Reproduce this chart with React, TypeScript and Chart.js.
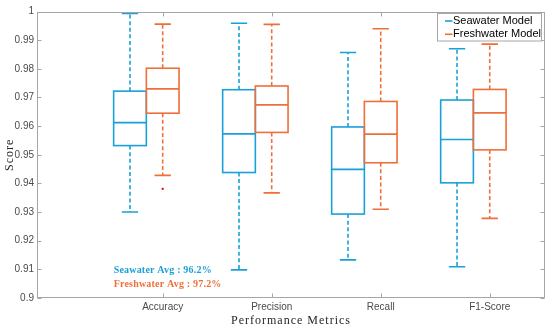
import React, { useEffect, useRef } from "react";
import { Chart, registerables } from "chart.js";

Chart.register(...registerables);

const categories = ["Accuracy", "Precision", "Recall", "F1-Score"];
const positions = [1, 2, 3, 4];
const yTicks = [0.9, 0.91, 0.92, 0.93, 0.94, 0.95, 0.96, 0.97, 0.98, 0.99, 1.0];

const seawaterMin = [0.930, 0.9098, 0.9133, 0.9109];
const seawaterQ1 = [0.9532, 0.9438, 0.9293, 0.9402];
const seawaterMedian = [0.9612, 0.9573, 0.9449, 0.9553];
const seawaterQ3 = [0.9722, 0.9727, 0.9597, 0.9691];
const seawaterMax = [0.9993, 0.9959, 0.9857, 0.9870];

const freshwaterMin = [0.9428, 0.9367, 0.9310, 0.9278];
const freshwaterQ1 = [0.9645, 0.9578, 0.9472, 0.9517];
const freshwaterMedian = [0.9730, 0.9674, 0.9572, 0.9646];
const freshwaterQ3 = [0.9802, 0.9740, 0.9686, 0.9728];
const freshwaterMax = [0.9956, 0.9955, 0.9940, 0.9886];

const freshwaterOutlierX = [1];
const freshwaterOutlierY = [0.9381];

const seriesNames = ["Seawater Model", "Freshwater Model"];
const avgTexts = ["Seawater Avg : 96.2%", "Freshwater Avg : 97.2%"];

const BLUE = "#1aa0d8";
const ORANGE = "#ef6f3a";
const FRAME = "#a6a6a6";

const boxSeries = [
  { offset: -0.3, color: BLUE, min: seawaterMin, q1: seawaterQ1, med: seawaterMedian, q3: seawaterQ3, max: seawaterMax },
  { offset: 0, color: ORANGE, min: freshwaterMin, q1: freshwaterQ1, med: freshwaterMedian, q3: freshwaterQ3, max: freshwaterMax },
];

const boxPlugin = {
  id: "boxPlugin",
  afterDatasetsDraw(chart: any) {
    const ctx = chart.ctx as CanvasRenderingContext2D;
    const xs = chart.scales.x;
    const ys = chart.scales.y;
    const ca = chart.chartArea;
    const boxW = 0.3;
    const capW = 0.15;
    ctx.save();
    boxSeries.forEach((s) => {
      positions.forEach((p, i) => {
        const c = p + s.offset;
        const xl = xs.getPixelForValue(c - boxW / 2);
        const xr = xs.getPixelForValue(c + boxW / 2);
        const xc = xs.getPixelForValue(c);
        const cl = xs.getPixelForValue(c - capW / 2);
        const cr = xs.getPixelForValue(c + capW / 2);
        const yMin = ys.getPixelForValue(s.min[i]);
        const yQ1 = ys.getPixelForValue(s.q1[i]);
        const yMed = ys.getPixelForValue(s.med[i]);
        const yQ3 = ys.getPixelForValue(s.q3[i]);
        const yMax = ys.getPixelForValue(s.max[i]);
        ctx.strokeStyle = s.color;
        ctx.lineWidth = 1.6;
        ctx.setLineDash([4, 2.6]);
        ctx.beginPath();
        ctx.moveTo(xc, yQ3);
        ctx.lineTo(xc, yMax);
        ctx.moveTo(xc, yQ1);
        ctx.lineTo(xc, yMin);
        ctx.stroke();
        ctx.setLineDash([]);
        ctx.beginPath();
        ctx.moveTo(cl, yMax);
        ctx.lineTo(cr, yMax);
        ctx.moveTo(cl, yMin);
        ctx.lineTo(cr, yMin);
        ctx.stroke();
        ctx.strokeRect(xl, yQ3, xr - xl, yQ1 - yQ3);
        ctx.beginPath();
        ctx.moveTo(xl, yMed);
        ctx.lineTo(xr, yMed);
        ctx.stroke();
      });
    });

    ctx.strokeStyle = FRAME;
    ctx.lineWidth = 1;
    const L = Math.round(ca.left) + 0.5;
    const R = Math.round(ca.right) - 0.5;
    const T = Math.round(ca.top) + 0.5;
    const B = Math.round(ca.bottom) - 0.5;
    ctx.strokeRect(L, T, R - L, B - T);
    ctx.beginPath();
    yTicks.forEach((v) => {
      const y = Math.round(ys.getPixelForValue(v)) + 0.5;
      ctx.moveTo(L, y);
      ctx.lineTo(L + 4, y);
      ctx.moveTo(R, y);
      ctx.lineTo(R - 4, y);
    });
    positions.forEach((p) => {
      const x = Math.round(xs.getPixelForValue(p)) + 0.5;
      ctx.moveTo(x, B);
      ctx.lineTo(x, B - 4);
      ctx.moveTo(x, T);
      ctx.lineTo(x, T + 4);
    });
    ctx.stroke();

    ctx.font = "bold 10px 'Liberation Serif', serif";
    (ctx as any).letterSpacing = "0.2px";
    ctx.textAlign = "left";
    ctx.textBaseline = "middle";
    ctx.fillStyle = BLUE;
    ctx.fillText(avgTexts[0], xs.getPixelForValue(0.55), ys.getPixelForValue(0.9097));
    ctx.fillStyle = ORANGE;
    ctx.fillText(avgTexts[1], xs.getPixelForValue(0.55), ys.getPixelForValue(0.9048));

    ctx.fillStyle = "#262626";
    ctx.font = "12px 'Liberation Serif', serif";
    (ctx as any).letterSpacing = "1px";
    ctx.textAlign = "center";
    ctx.fillText("Performance Metrics", (ca.left + ca.right) / 2, 321);
    ctx.save();
    ctx.translate(10, (ca.top + ca.bottom) / 2);
    ctx.rotate(-Math.PI / 2);
    ctx.fillText("Score", 0, 0);
    ctx.restore();
    (ctx as any).letterSpacing = "0px";

    const lw = 104;
    const lh = 27.5;
    const lx = Math.round(ca.right - 4 - lw) + 0.5;
    const ly = Math.round(ca.top + 1.5) + 0.5;
    ctx.fillStyle = "#ffffff";
    ctx.fillRect(lx, ly, lw, lh);
    ctx.strokeStyle = FRAME;
    ctx.lineWidth = 1;
    ctx.strokeRect(lx, ly, lw, lh);
    ctx.font = "11px 'Liberation Sans', Arial, sans-serif";
    ctx.textAlign = "left";
    ctx.textBaseline = "middle";
    [BLUE, ORANGE].forEach((col, k) => {
      const yy = ly + 7.5 + k * 13.3;
      ctx.strokeStyle = col;
      ctx.lineWidth = 1.6;
      ctx.beginPath();
      ctx.moveTo(lx + 7.5, yy);
      ctx.lineTo(lx + 15, yy);
      ctx.stroke();
      ctx.fillStyle = "#000000";
      ctx.fillText(seriesNames[k], lx + 15.5, yy);
    });
    ctx.restore();
  },
};

export default function App() {
  const ref = useRef<HTMLCanvasElement | null>(null);
  useEffect(() => {
    document.body.style.margin = "0";
    if (!ref.current) return;
    const chart = new Chart(ref.current, {
      type: "scatter",
      data: {
        datasets: [
          {
            label: "Freshwater outliers",
            data: freshwaterOutlierX.map((x, i) => ({ x, y: freshwaterOutlierY[i] })),
            pointRadius: 1.2,
            pointBackgroundColor: "#e8101a",
            pointBorderWidth: 0,
          },
        ],
      },
      options: {
        responsive: false,
        animation: false,
        devicePixelRatio: 1,
        layout: { padding: { left: 0, top: 11.5, right: 5, bottom: 0 } },
        plugins: { legend: { display: false }, tooltip: { enabled: false } },
        scales: {
          x: {
            type: "linear",
            min: -0.153,
            max: 4.507,
            grid: { display: false, drawTicks: false },
            border: { display: false },
            afterBuildTicks: (scale: any) => {
              scale.ticks = positions.map((v) => ({ value: v }));
            },
            afterFit: (scale: any) => {
              scale.height = 35;
            },
            ticks: {
              autoSkip: false,
              maxRotation: 0,
              padding: 3,
              color: "#4a4a4a",
              font: { family: "'Liberation Sans', Arial, sans-serif", size: 10 },
              callback: (v: any) => categories[positions.indexOf(Number(v))] ?? "",
            },
          },
          y: {
            min: 0.9,
            max: 1.0,
            grid: { display: false, drawTicks: false },
            border: { display: false },
            afterBuildTicks: (scale: any) => {
              scale.ticks = yTicks.map((v) => ({ value: v }));
            },
            afterFit: (scale: any) => {
              scale.width = 37;
            },
            ticks: {
              autoSkip: false,
              padding: 3,
              color: "#4a4a4a",
              font: { family: "'Liberation Sans', Arial, sans-serif", size: 10 },
              callback: (v: any) => String(Number(Number(v).toFixed(2))),
            },
          },
        },
      },
      plugins: [boxPlugin],
    });
    return () => chart.destroy();
  }, []);
  return <canvas ref={ref} width={550} height={333} style={{ display: "block" }} />;
}
